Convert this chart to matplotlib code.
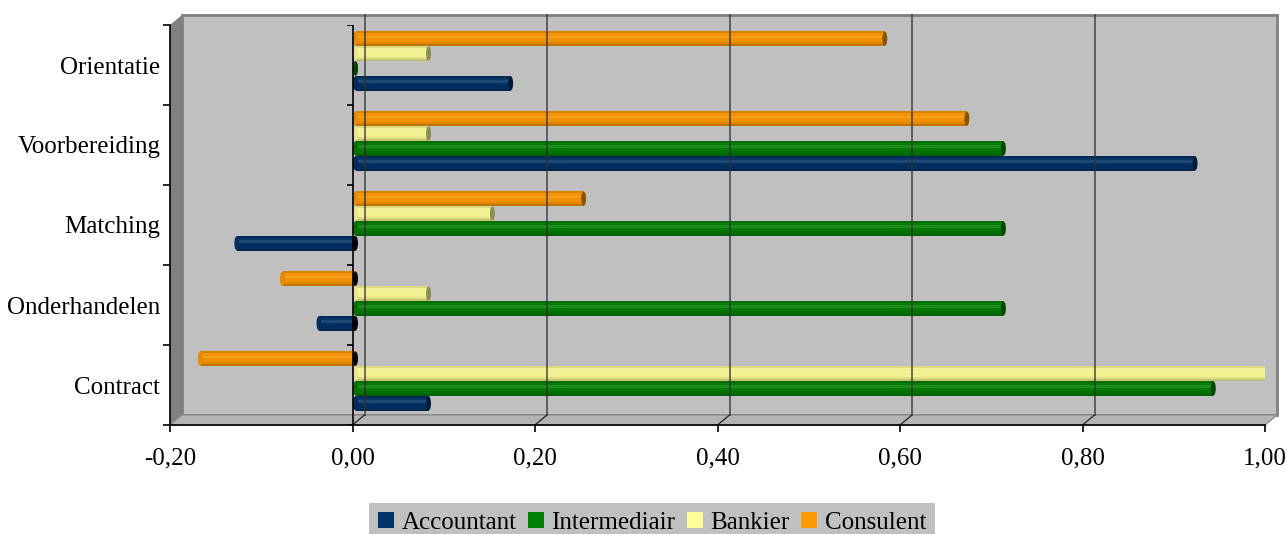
import numpy as np
import matplotlib
matplotlib.use("Agg")
import matplotlib.pyplot as plt
from matplotlib.patches import Polygon, Ellipse, Patch

plt.rcParams['font.family'] = ['Liberation Serif', 'DejaVu Serif']

# data (categories listed top -> bottom as in the chart)
categories = ["Orientatie", "Voorbereiding", "Matching", "Onderhandelen", "Contract"]
series = ["Accountant", "Intermediair", "Bankier", "Consulent"]
accountant = [0.17, 0.92, -0.13, -0.04, 0.08]
intermediair = [0.00, 0.71, 0.71, 0.71, 0.94]
bankier = [0.08, 0.08, 0.15, 0.08, 1.00]
consulent = [0.58, 0.67, 0.25, -0.08, -0.17]
colors = ["#003366", "#008000", "#FFFF99", "#FF9900"]
xticks = [-0.2, 0.0, 0.2, 0.4, 0.6, 0.8, 1.0]

values = [accountant, intermediair, bankier, consulent]


def mix(c, f):
    c = np.array(matplotlib.colors.to_rgb(c))
    if f >= 0:
        return tuple(c + (1 - c) * f)
    return tuple(c * (1 + f))


fig = plt.figure(figsize=(12.87, 5.34), dpi=100)
ax = fig.add_axes([170 / 1287, 109 / 534, 1095 / 1287, 400 / 534])
ax.set_xlim(-0.2, 1.0)
ax.set_ylim(0, 5)

px_x = 1.2 / 1095   # data units per pixel
px_y = 5 / 400
dxw, dyw = 12 * px_x, 10 * px_y  # 3d depth of walls

# walls
back = Polygon([(-0.2 + dxw, dyw), (1.0 + dxw, dyw), (1.0 + dxw, 5 + dyw), (-0.2 + dxw, 5 + dyw)],
               closed=True, fc="#C0C0C0", ec="#808080", lw=2, clip_on=False, zorder=0)
side = Polygon([(-0.2, 0), (-0.2, 5), (-0.2 + dxw, 5 + dyw), (-0.2 + dxw, dyw)],
               closed=True, fc="#808080", ec="none", clip_on=False, zorder=0.5)
floor = Polygon([(-0.2, 0), (1.0, 0), (1.0 + dxw, dyw), (-0.2 + dxw, dyw)],
                closed=True, fc="#B4B4B4", ec="#909090", lw=1, clip_on=False, zorder=0.5)
for p in (back, side, floor):
    ax.add_patch(p)

# gridlines on the back wall
for x in xticks[1:-1]:
    ax.plot([x + dxw, x + dxw], [dyw, 5 + dyw], color="#303030", lw=1.2, alpha=0.8, zorder=5, clip_on=False)
    ax.plot([x, x + dxw], [0, dyw], color="#303030", lw=1, zorder=5, clip_on=False)

# cylinder bars
h = 0.186
bx, by = 3 * px_x, 4 * px_y
cap_w = 5 * px_x
profile = [(0.00, 0.14, -0.2), (0.14, 0.30, -0.08), (0.30, 0.55, 0.0),
           (0.55, 0.70, 0.12), (0.70, 0.88, 0.03), (0.88, 1.00, -0.1)]
for si, (name, vals, col) in enumerate(zip(series, values, colors)):
    base = mix(col, -0.05)
    for ci, v in enumerate(vals):
        gi = len(categories) - 1 - ci
        yc = gi + 0.5 + by + (si - 1.5) * h
        y0 = yc - h / 2
        left = min(v, 0) + bx
        width = abs(v)
        for a, b, f in profile:
            ax.barh(y0 + (a + b) / 2 * h, width, height=(b - a) * h, left=left,
                    color=mix(base, f), lw=0, zorder=3)
        ax.add_patch(Ellipse((left, yc), cap_w, h * 0.96, fc=mix(base, -0.05), ec="none", zorder=3))
        capc = mix(col, -0.45) if v >= 0 else "#050505"
        ax.add_patch(Ellipse((left + width, yc), cap_w, h * 0.96, fc=capc, ec="none", zorder=4))

# zero line of the category axis with its ticks
ax.plot([0, 0], [0, 5], color="black", lw=1.2, zorder=6)
ax.hlines(range(6), -6 * px_x, 0, color="black", lw=1.2, zorder=6)

# axes styling
for s in ("top", "right"):
    ax.spines[s].set_visible(False)
ax.spines["left"].set_linewidth(1.2)
ax.spines["bottom"].set_linewidth(1.2)
ax.spines["left"].set_zorder(6)
ax.spines["bottom"].set_zorder(6)
ax.set_facecolor("none")
ax.set_xticks(xticks)
ax.set_xticklabels([f"{t:.2f}".replace(".", ",") for t in xticks])
ax.set_yticks(range(6))
ax.set_yticklabels([])
ax.set_yticks([i + 0.5 for i in range(5)], categories[::-1], minor=True)
ax.tick_params(axis="x", direction="out", length=5, width=1.2, pad=11, labelsize=18)
ax.tick_params(axis="y", which="major", direction="out", length=5, width=1.2)
ax.tick_params(axis="y", which="minor", length=0, pad=7, labelsize=18)

handles = [Patch(fc=c, ec="none", label=n) for n, c in zip(series, colors)]
leg = fig.legend(handles=handles, loc="lower center", bbox_to_anchor=(652 / 1287, -0.016), ncol=4,
                 fontsize=18, frameon=True, fancybox=False, facecolor="#C0C0C0", edgecolor="none",
                 handlelength=0.65, handleheight=0.65, handletextpad=0.3, columnspacing=0.45,
                 borderpad=0.35, borderaxespad=0)
leg.get_frame().set_alpha(1)

fig.savefig("out.png", dpi=100)
